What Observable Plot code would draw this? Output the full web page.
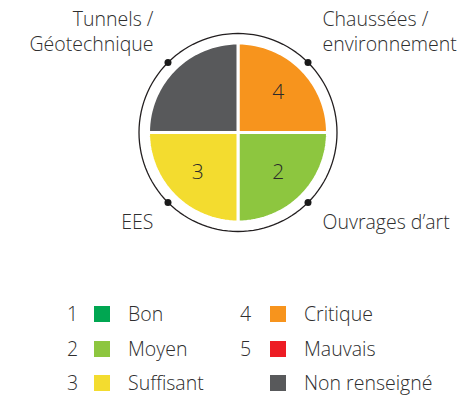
<!DOCTYPE html>
<html><head><meta charset="utf-8">
<script src="https://cdn.jsdelivr.net/npm/d3@7"></script>
<script src="https://cdn.jsdelivr.net/npm/@observablehq/plot@0.6"></script>
<style>
body{margin:0;background:#fff;font-family:"Open Sans",sans-serif;color:#2e2e2e}
#chart svg{display:block}
#legend{height:151px;box-sizing:border-box;padding-top:46.75px;padding-left:67px}
.grid{display:grid;grid-template-columns:27px 34px 112px 30px 34px auto;grid-auto-rows:34.5px;font-size:19.5px;font-weight:350;align-items:center;line-height:1}
.sw{width:16px;height:16px}
</style></head><body><div id="chart"></div><div id="legend"></div>
<script>
// Data
const regions = ["Chaussées /\nenvironnement", "Ouvrages d’art", "EES", "Tunnels /\nGéotechnique"];
const ratings = [4, 2, 3, null];
const levelCodes = ["1", "2", "3", "4", "5", ""];
const levelNames = ["Bon", "Moyen", "Suffisant", "Critique", "Mauvais", "Non renseigné"];
const levelColors = ["#00a651", "#8dc63f", "#f3dc2f", "#f7941d", "#ed1c24", "#58595b"];

const colorOf = r => levelColors[r == null ? 5 : r - 1];

// Geometry helpers (clockwise from north)
const W = 469, H = 250, R = 89.5, cx = 237.5, cy = 132;
const ringR = 99 / R, numR = 0.635, steps = 32;
const quarter = Math.PI / 2;

const slices = [];
regions.forEach((name, i) => {
  const a0 = i * quarter, a1 = (i + 1) * quarter;
  slices.push({region: name, rating: ratings[i], x: 0, y: 0});
  for (let k = 0; k <= steps; k++) {
    const a = a0 + (a1 - a0) * k / steps;
    slices.push({region: name, rating: ratings[i], x: Math.sin(a), y: Math.cos(a)});
  }
});
const ring = d3.range(0, 121).map(k => { const a = 2 * Math.PI * k / 120; return {x: ringR * Math.sin(a), y: ringR * Math.cos(a)}; });
const mids = regions.map((name, i) => {
  const a = (i + 0.5) * quarter;
  return {region: name, rating: ratings[i], sx: Math.sign(Math.sin(a)), sy: Math.sign(Math.cos(a)), ux: Math.sin(a), uy: Math.cos(a)};
});

const labelMarks = mids.map(m => Plot.text([m], {
  x: d => ringR * d.ux, y: d => ringR * d.uy, text: "region",
  textAnchor: m.sx > 0 ? "start" : "end", lineAnchor: "bottom",
  dx: m.sx * 14.5, dy: m.sy > 0 ? -11.5 : 26.5,
  fontSize: 19.5, fontWeight: 350, lineHeight: 1.3, fill: "#2e2e2e", fontFamily: "Open Sans"
}));

const chart = Plot.plot({
  width: W, height: H, margin: 0,
  x: {domain: [-cx / R, (W - cx) / R], axis: null},
  y: {domain: [-(H - cy) / R, cy / R], axis: null},
  color: {type: "identity"},
  style: {fontFamily: "Open Sans", background: "white"},
  marks: [
    Plot.line(ring, {x: "x", y: "y", stroke: "#231f20", strokeWidth: 1.3, curve: "linear-closed"}),
    Plot.line(slices, {x: "x", y: "y", z: "region", fill: d => colorOf(d.rating), stroke: "white", strokeWidth: 3, curve: "linear-closed", strokeLinejoin: "miter"}),
    Plot.dot(mids, {x: d => ringR * d.ux, y: d => ringR * d.uy, r: 3.5, fill: "#1a1a1a"}),
    Plot.text(mids.filter(d => d.rating != null), {x: d => numR * d.ux, y: d => numR * d.uy, text: d => String(d.rating), fontSize: 21, fontWeight: 350, fill: "#2a2a2a"}),
    ...labelMarks
  ]
});
document.getElementById("chart").append(chart);

// Legend
const grid = document.createElement("div");
grid.className = "grid";
const order = [0, 3, 1, 4, 2, 5];
order.forEach(i => {
  const c = document.createElement("div"); c.textContent = levelCodes[i];
  const s = document.createElement("div"); s.className = "sw"; s.style.background = levelColors[i];
  const n = document.createElement("div"); n.textContent = levelNames[i];
  grid.append(c, s, n);
});
document.getElementById("legend").append(grid);
</script></body></html>
